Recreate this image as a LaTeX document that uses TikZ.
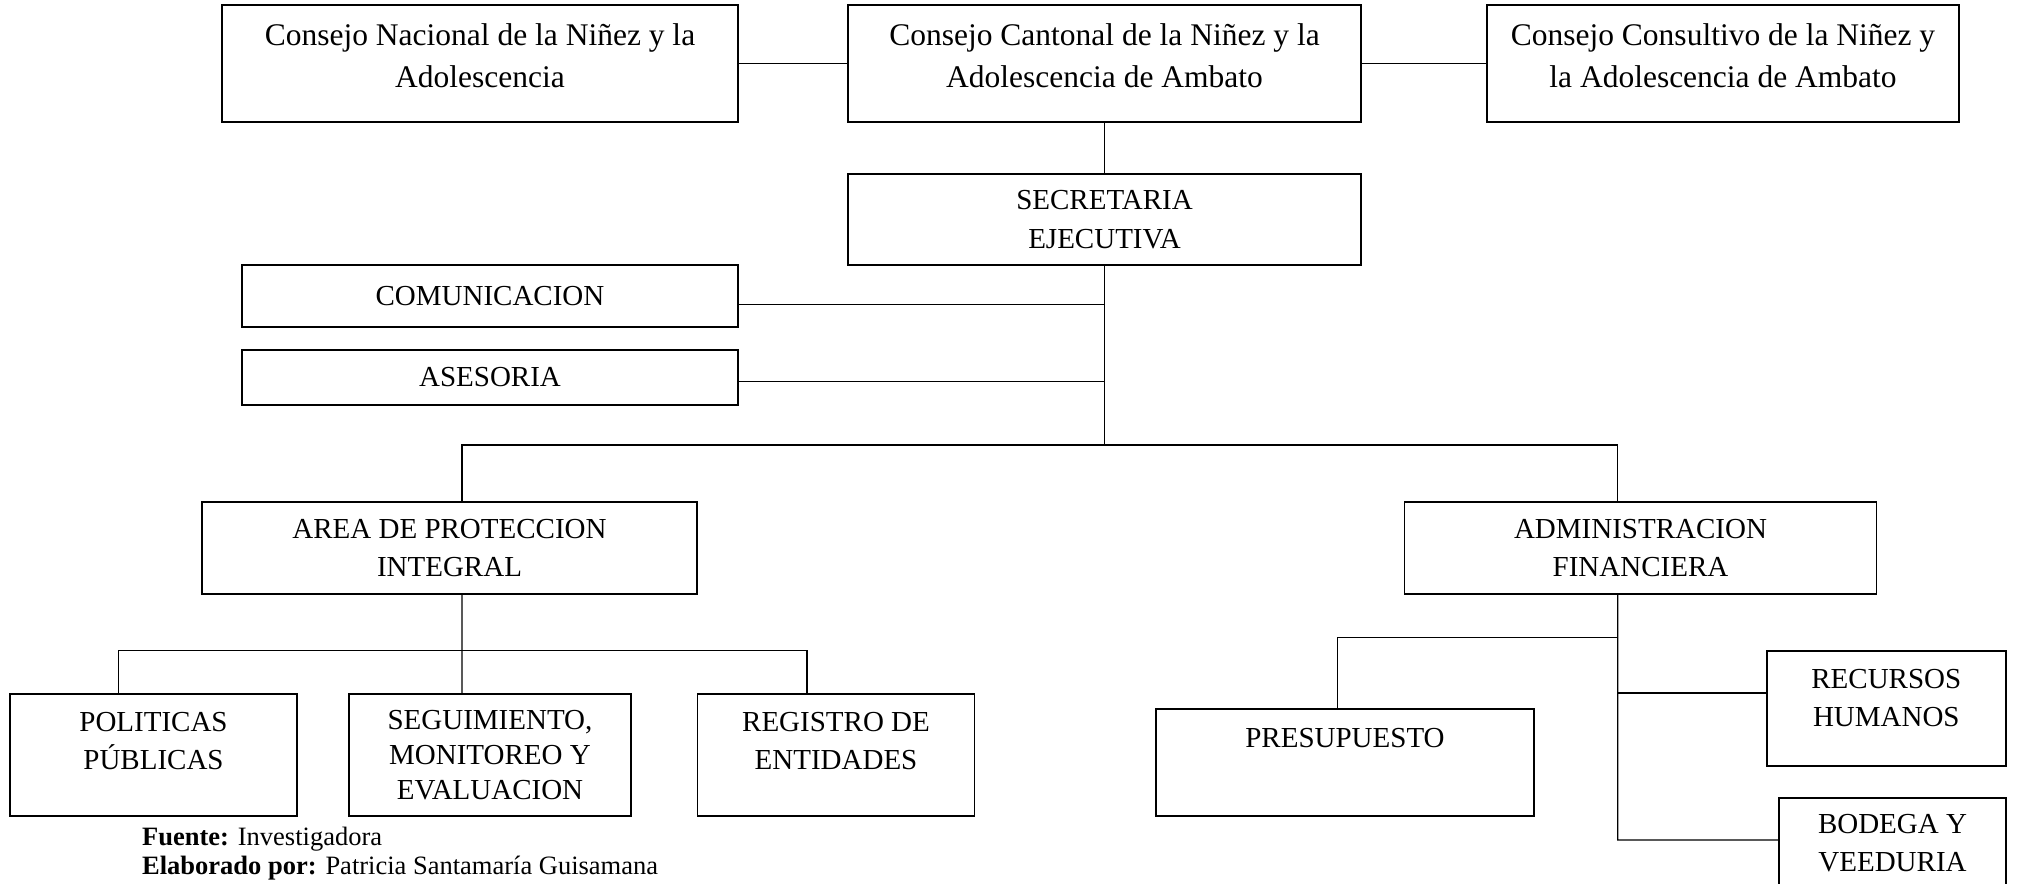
\documentclass[tikz,border=0pt]{standalone}
\usepackage{fontspec}
\setmainfont{Liberation Serif}

\begin{document}
\begin{tikzpicture}[x=0.4pt,y=-0.4pt,
        caja/.style 2 args={draw, line width=0.7pt, inner sep=0pt, align=center,
            minimum width=#1, minimum height=#2, font=\fontsize{11.6}{15.3}\selectfont},
        texto/.style={align=center, inner sep=0pt, font=\fontsize{11.6}{15.3}\selectfont},
        alto/.style={font=\fontsize{12.6}{16.8}\selectfont},
        nota/.style={inner sep=0pt, font=\fontsize{10.6}{12}\selectfont},
        linea/.style={line width=0.55pt}]
                \useasboundingbox (0,0) rectangle (2019,884);
                \clip (0,0) rectangle (2019,884);

                \node[caja={206.4pt}{46.8pt}] (nac) at (480,63.5) {};
                \node[texto, alto] (nact) at ([yshift=3pt]nac.center) {Consejo Nacional de la Niñez y la\\Adolescencia};
                \node[caja={205.2pt}{46.8pt}] (can) at (1104.5,63.5) {};
                \node[texto, alto] (cant) at ([yshift=3pt]can.center) {Consejo Cantonal de la Niñez y la\\Adolescencia de Ambato};
                \node[caja={188.8pt}{46.8pt}] (con) at (1723,63.5) {};
                \node[texto, alto] (cont) at ([yshift=3pt]con.center) {Consejo Consultivo de la Niñez y\\la Adolescencia de Ambato};

                \node[caja={205.2pt}{36.4pt}] (sec) at (1104.5,219.5) {SECRETARIA\\EJECUTIVA};
                \node[caja={198.4pt}{24.8pt}] (com) at (490,296) {COMUNICACION};
                \node[caja={198.4pt}{22pt}] (ase) at (490,377.5) {ASESORIA};

                \node[caja={198pt}{36.8pt}] (area) at (449.5,548) {AREA DE PROTECCION\\INTEGRAL};
                \node[caja={188.8pt}{36.8pt}] (adm) at (1640.5,548) {ADMINISTRACION\\FINANCIERA};

                \node[caja={114.8pt}{48.8pt}] (pol) at (153.5,755) {};
                \node[texto] (polt) at ([yshift=5.6pt]pol.center) {POLITICAS\\PÚBLICAS};
                \node[caja={113pt}{48.8pt}, font=\fontsize{11.6}{14}\selectfont] (seg) at (490,755) {SEGUIMIENTO,\\MONITOREO Y\\EVALUACION};
                \node[caja={110.8pt}{48.8pt}] (reg) at (836,755) {};
                \node[texto] (regt) at ([yshift=5.6pt]reg.center) {REGISTRO DE\\ENTIDADES};

                \node[caja={151pt}{42.7pt}] (pre) at (1345,762.5) {};
                \node[texto] (pret) at ([yshift=9.8pt]pre.center) {PRESUPUESTO};
                \node[caja={95.7pt}{46pt}] (rec) at (1886.3,708.2) {};
                \node[texto] (rect) at ([yshift=4pt]rec.center) {RECURSOS\\HUMANOS};
                \node[caja={90.8pt}{42.8pt}] (bod) at (1892.5,851.4) {};
                \node[texto] (bodt) at ([yshift=3.2pt]bod.center) {BODEGA Y\\VEEDURIA};

                \coordinate (hub) at (1104.5,445);
                \coordinate (izq) at (462,650.7);
                \coordinate (der) at (1617.7,637.3);
                \coordinate (rmid) at (1617.7,693);
                \coordinate (rfin) at (1617.7,840);

                \draw[linea] (nac) -- (can);
                \draw[linea] (can) -- (con);
                \draw[linea] (can) -- (sec);
                \draw[linea] (sec) -- (hub);
                \draw[linea] ([yshift=-3.3pt]com.east) coordinate (c1) -- (c1 -| hub);
                \draw[linea] ([yshift=-1.7pt]ase.east) coordinate (c2) -- (c2 -| hub);
                \draw[linea] ([xshift=5pt]area.north) |- (hub) -| ([xshift=-9.1pt]adm.north);

                \draw[linea] ([xshift=5pt]area.south) -- ([xshift=-11.2pt]seg.north);
                \draw[linea] ([xshift=-14pt]pol.north) |- (izq) -| ([xshift=-11.6pt]reg.north);

                \draw[linea] ([xshift=-9.1pt]adm.south) -- (rfin) -- (bod.west |- rfin);
                \draw[linea] (der) -| ([xshift=-3pt]pre.north);
                \draw[linea] (rmid) -- (rec.west |- rmid);

                \node[nota, anchor=base west] (fuente) at (141.7,845.7) {\textbf{Fuente:} Investigadora};
                \node[nota, anchor=base west] (elab) at (141.7,874) {\textbf{Elaborado por:} Patricia Santamaría Guisamana};
            \end{tikzpicture}
\end{document}
